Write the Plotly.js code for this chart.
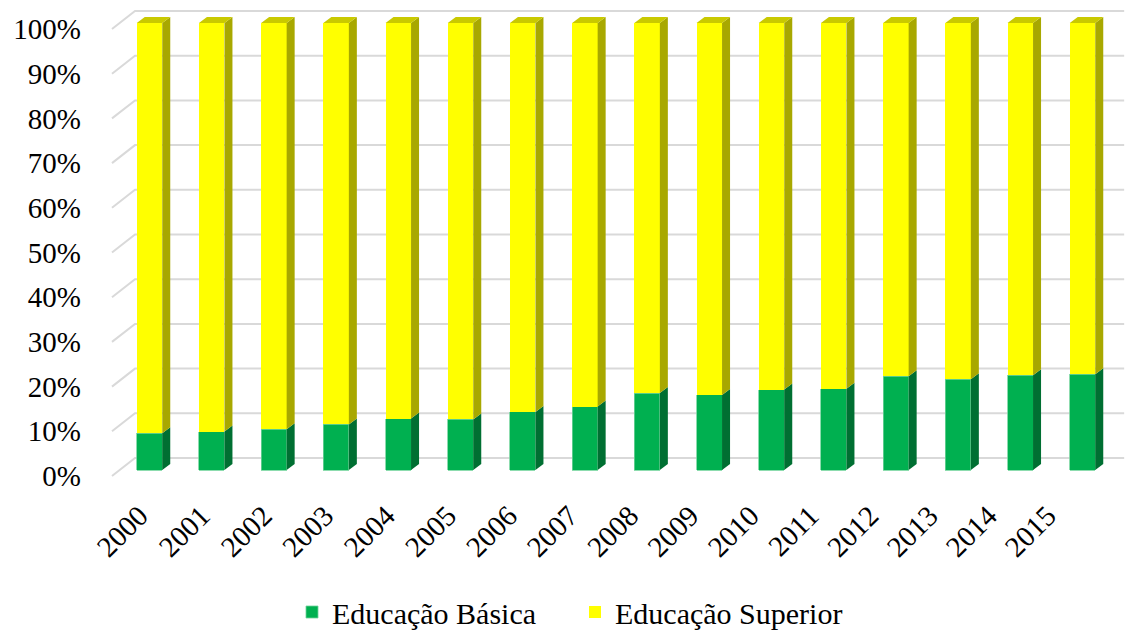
<!DOCTYPE html>
<html>
<head>
<meta charset="utf-8">
<script src="https://cdn.plot.ly/plotly-3.0.1.min.js"></script>
<style>
html,body{margin:0;padding:0;background:#fff;}
#chart{width:1128px;height:630px;}
</style>
</head>
<body>
<div id="chart"></div>
<script>
// ---- data ----
const years = ['2000','2001','2002','2003','2004','2005','2006','2007','2008','2009','2010','2011','2012','2013','2014','2015'];
const basica = [8.2, 8.6, 9.1, 10.2, 11.5, 11.3, 13.0, 14.2, 17.2, 16.8, 18.0, 18.2, 21.0, 20.3, 21.2, 21.4];
const superior = [91.8, 91.4, 90.9, 89.8, 88.5, 88.7, 87.0, 85.8, 82.8, 83.2, 82.0, 81.8, 79.0, 79.7, 78.8, 78.6];
const yTicks = [0, 10, 20, 30, 40, 50, 60, 70, 80, 90, 100];
const yTickText = ['0%','10%','20%','30%','40%','50%','60%','70%','80%','90%','100%'];
const seriesNames = ['Educação Básica', 'Educação Superior'];

// ---- style / geometry ----
const PX_X = 62.2, PX_Y = 4.47;       // pixels per data unit
const BAR_W = 0.41;
const DX = 8 / PX_X, DY = 6 / PX_Y;    // bar depth
const G_FRONT_X = -0.603, G_BACK_X = -0.233, G_END_X = 15.67;
const G_FRONT_DY = -6 / PX_Y, G_BACK_DY = 12 / PX_Y;
const LABEL_SHIFT = -10 / PX_X, LABEL_PERSPECTIVE = 0.00178;
const COL = {gFront: '#00b050', gSide: '#006f32', yFront: '#ffff00', ySide: '#a8a800', yTop: '#c9c900', grid: '#d9d9d9'};
const SERIF = 'Liberation Serif';
const xs = years.map((_, i) => i);
const xRange = [(100 - 149.5) / PX_X, (1128 - 149.5) / PX_X];
const yRange = [(470 - 480) / PX_Y, (470 - 5) / PX_Y];

// gridlines (3D wall)
const gx = [], gy = [];
yTicks.forEach(v => {
  gx.push(G_FRONT_X, G_BACK_X, G_END_X, null);
  gy.push(v + G_FRONT_DY, v + G_BACK_DY, v + G_BACK_DY, null);
});

// side and top faces
function sideFace(bottom, top) {
  const px = [], py = [];
  xs.forEach(i => {
    const xr = i + BAR_W / 2;
    px.push(xr, xr + DX, xr + DX, xr, xr, null);
    py.push(bottom[i], bottom[i] + DY, top[i] + DY, top[i], bottom[i], null);
  });
  return {px, py};
}
const zeros = xs.map(() => 0);
const totals = xs.map(i => basica[i] + superior[i]);
const gSide = sideFace(zeros, basica);
const ySide = sideFace(basica, totals);
const topX = [], topY = [];
xs.forEach(i => {
  const xl = i - BAR_W / 2, xr = i + BAR_W / 2, t = totals[i];
  topX.push(xl, xr, xr + DX, xl + DX, xl, null);
  topY.push(t, t, t + DY, t + DY, t, null);
});

const traces = [
  {type: 'scatter', mode: 'lines', x: gx, y: gy, xaxis: 'x', yaxis: 'y', line: {color: COL.grid, width: 2}, hoverinfo: 'skip', showlegend: false},
  {type: 'bar', name: seriesNames[0], x: xs, y: basica, width: BAR_W, xaxis: 'x2', yaxis: 'y2', marker: {color: COL.gFront, line: {width: 0.8, color: '#6fd39a'}}},
  {type: 'bar', name: seriesNames[1], x: xs, y: superior, width: BAR_W, xaxis: 'x2', yaxis: 'y2', marker: {color: COL.yFront, line: {width: 0}}},
  {type: 'scatter', mode: 'lines', x: gSide.px, y: gSide.py, xaxis: 'x2', yaxis: 'y2', fill: 'toself', fillcolor: COL.gSide, line: {width: 0}, hoverinfo: 'skip', showlegend: false},
  {type: 'scatter', mode: 'lines', x: ySide.px, y: ySide.py, xaxis: 'x2', yaxis: 'y2', fill: 'toself', fillcolor: COL.ySide, line: {width: 0}, hoverinfo: 'skip', showlegend: false},
  {type: 'scatter', mode: 'lines', x: topX, y: topY, xaxis: 'x2', yaxis: 'y2', fill: 'toself', fillcolor: COL.yTop, line: {width: 0}, hoverinfo: 'skip', showlegend: false}
];

const layout = {
  width: 1128, height: 630,
  margin: {l: 100, r: 0, t: 5, b: 150},
  paper_bgcolor: '#ffffff', plot_bgcolor: 'rgba(0,0,0,0)',
  barmode: 'stack', showlegend: true,
  font: {family: SERIF, color: '#000000', size: 29},
  xaxis: {range: xRange, tickmode: 'array',
          tickvals: xs.map(i => i + LABEL_SHIFT - LABEL_PERSPECTIVE * i * i), ticktext: years, tickangle: -45,
          showgrid: false, zeroline: false, showline: false, ticks: '',
          ticklabelstandoff: 12, tickfont: {family: SERIF, size: 29, color: '#000000'}},
  yaxis: {range: yRange, tickmode: 'array', tickvals: yTicks.map(v => v + G_FRONT_DY), ticktext: yTickText,
          showgrid: false, zeroline: false, showline: false, ticks: '',
          ticklabelstandoff: 18, tickfont: {family: SERIF, size: 29, color: '#000000'}},
  xaxis2: {range: xRange, overlaying: 'x', visible: false},
  yaxis2: {range: yRange, overlaying: 'y', visible: false},
  legend: {orientation: 'h', xref: 'container', yref: 'container', x: 292 / 1128, xanchor: 'left',
           y: 1 - 612 / 630, yanchor: 'middle', traceorder: 'normal',
           entrywidth: 238, entrywidthmode: 'pixels',
           font: {family: SERIF, size: 30, color: '#000000'}, itemwidth: 30}
};

Plotly.newPlot('chart', traces, layout, {displayModeBar: false});
</script>
</body>
</html>
